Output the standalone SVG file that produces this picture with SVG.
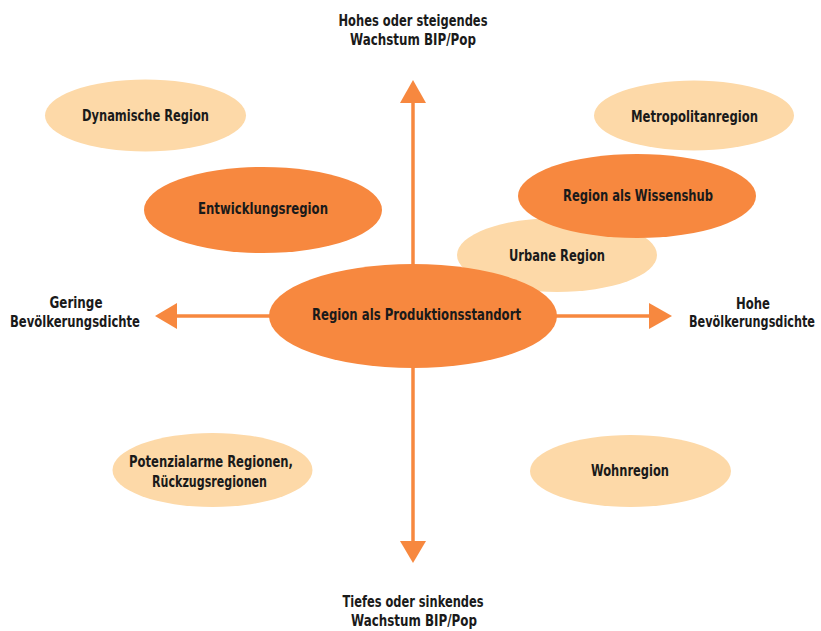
<svg xmlns="http://www.w3.org/2000/svg" width="821" height="631" viewBox="0 0 821 631">
<style>
.dark{fill:#F7883F}
.light{fill:#FDD9A8}
text{font-family:"DejaVu Sans Condensed","DejaVu Sans",sans-serif;font-weight:bold;font-size:15.5px;fill:#1a1a1a;text-anchor:middle}
.ax{stroke:#F7883F;stroke-width:3.5;fill:none}
.ah{fill:#F7883F}
</style>
<rect width="821" height="631" fill="#ffffff"/>
<g id="connectors">
<line class="ax" x1="413" y1="100" x2="413" y2="544"/>
<line class="ax" x1="175" y1="316" x2="651" y2="316"/>
<polygon class="ah" points="413,80 400,103 426,103"/>
<polygon class="ah" points="413,563 400,541 426,541"/>
<polygon class="ah" points="155,316 177,303 177,329"/>
<polygon class="ah" points="672,316 649,303 649,329"/>
</g>
<g id="axis-top"><text x="413" y="26" textLength="149" lengthAdjust="spacingAndGlyphs">Hohes oder steigendes</text><text x="413" y="45" textLength="126" lengthAdjust="spacingAndGlyphs">Wachstum BIP/Pop</text></g>
<g id="axis-bottom"><text x="413" y="607" textLength="141" lengthAdjust="spacingAndGlyphs">Tiefes oder sinkendes</text><text x="414" y="626" textLength="126" lengthAdjust="spacingAndGlyphs">Wachstum BIP/Pop</text></g>
<g id="axis-left"><text x="76" y="308" textLength="53" lengthAdjust="spacingAndGlyphs">Geringe</text><text x="75" y="327" textLength="130" lengthAdjust="spacingAndGlyphs">Bevölkerungsdichte</text></g>
<g id="axis-right"><text x="770" y="309" style="text-anchor:end" textLength="34" lengthAdjust="spacingAndGlyphs">Hohe</text><text x="815" y="327" style="text-anchor:end" textLength="126" lengthAdjust="spacingAndGlyphs">Bevölkerungsdichte</text></g>
<g id="dynamische"><ellipse class="light" cx="145.5" cy="115.5" rx="100.5" ry="36"/><text x="145.5" y="121" textLength="127" lengthAdjust="spacingAndGlyphs">Dynamische Region</text></g>
<g id="metropolitan"><ellipse class="light" cx="694" cy="115.5" rx="100" ry="35"/><text x="694.5" y="122" textLength="127" lengthAdjust="spacingAndGlyphs">Metropolitanregion</text></g>
<g id="entwicklung"><ellipse class="dark" cx="263" cy="210" rx="119" ry="43"/><text x="263" y="214" textLength="130" lengthAdjust="spacingAndGlyphs">Entwicklungsregion</text></g>
<g id="urbane"><ellipse class="light" cx="557" cy="255" rx="100" ry="37"/><text x="557" y="261" textLength="96" lengthAdjust="spacingAndGlyphs">Urbane Region</text></g>
<g id="wissenshub"><ellipse class="dark" cx="637" cy="196" rx="119" ry="42"/><text x="638" y="201" textLength="150" lengthAdjust="spacingAndGlyphs">Region als Wissenshub</text></g>
<g id="produktion"><ellipse class="dark" cx="413" cy="316" rx="144" ry="52"/><text x="416.5" y="320" textLength="209" lengthAdjust="spacingAndGlyphs">Region als Produktionsstandort</text></g>
<g id="potenzialarme"><ellipse class="light" cx="212.5" cy="470" rx="100" ry="37"/><text x="211" y="467" textLength="164" lengthAdjust="spacingAndGlyphs">Potenzialarme Regionen,</text><text x="209.5" y="487" textLength="115" lengthAdjust="spacingAndGlyphs">Rückzugsregionen</text></g>
<g id="wohnregion"><ellipse class="light" cx="630.5" cy="471" rx="100.5" ry="36"/><text x="630" y="476" textLength="78" lengthAdjust="spacingAndGlyphs">Wohnregion</text></g>
</svg>
